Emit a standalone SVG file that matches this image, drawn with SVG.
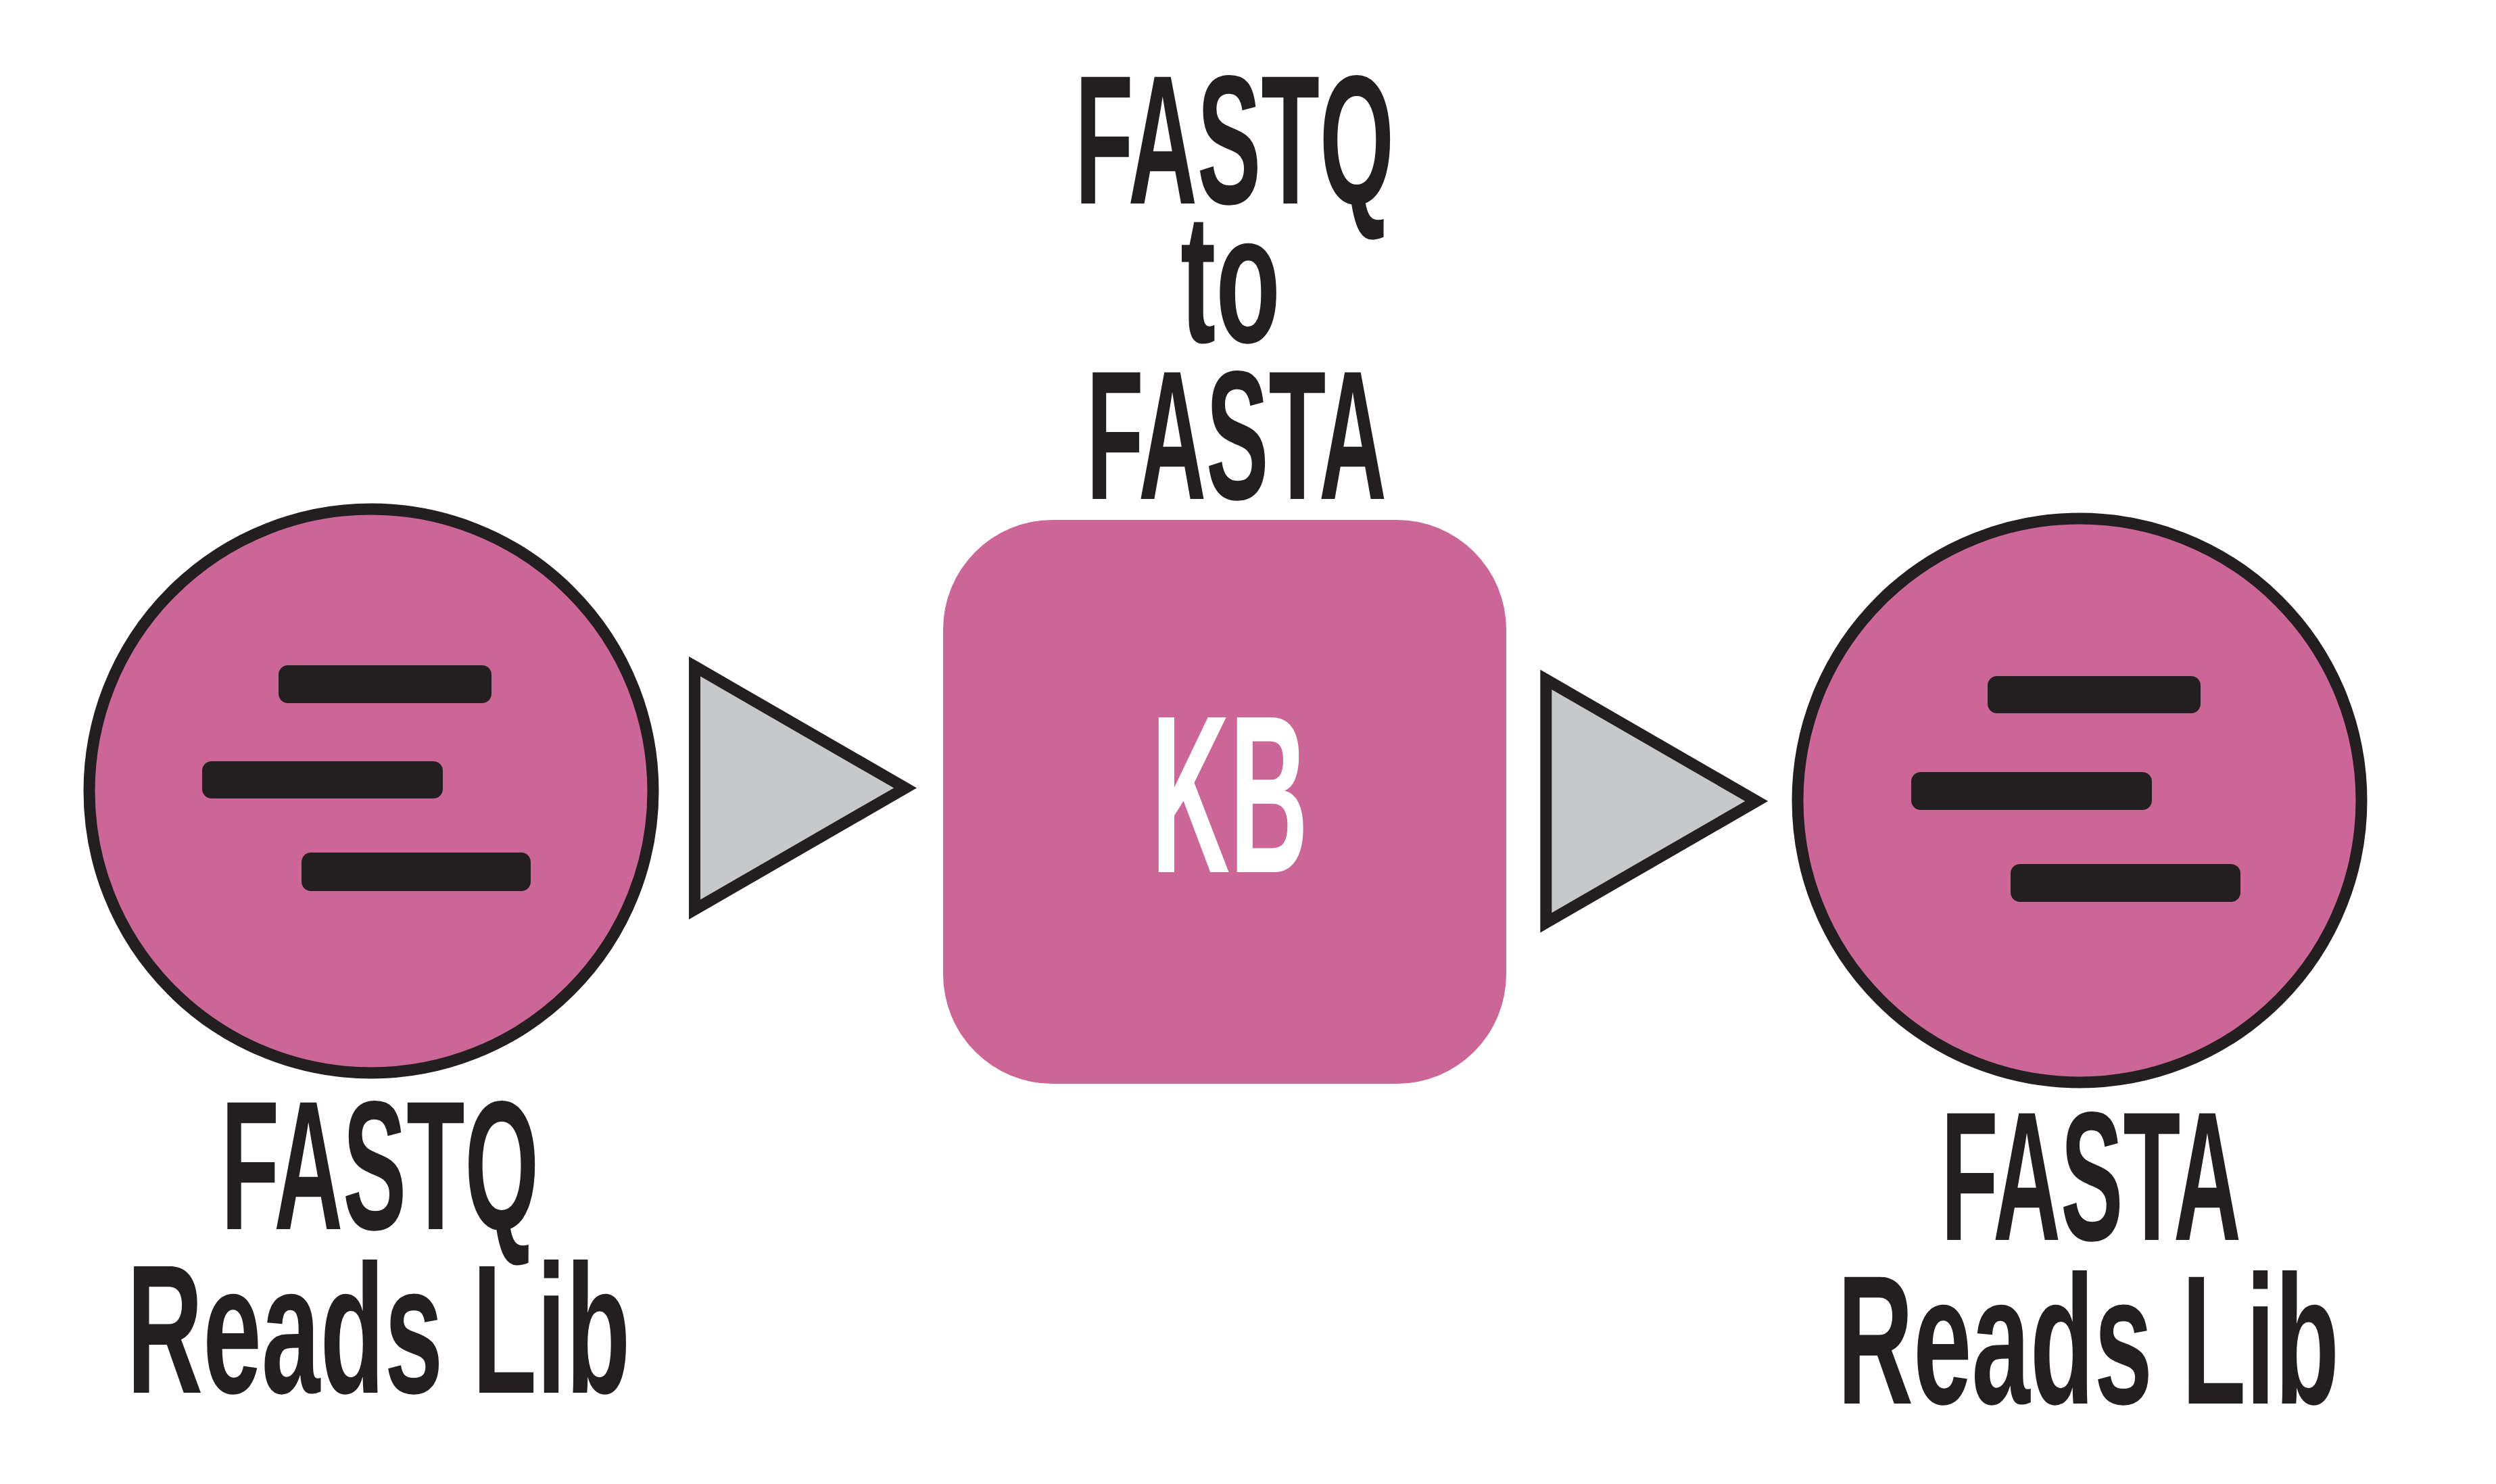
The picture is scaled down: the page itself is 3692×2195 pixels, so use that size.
<svg xmlns="http://www.w3.org/2000/svg" width="3692" height="2195" viewBox="0 0 3692 2195">
<style>
.lib{fill:#cc6697;stroke:#231f20;stroke-width:17}
.bar{fill:#231f20}
.kb{fill:#cc6697}
.arrow{fill:#c7c8ca;stroke:#231f20;stroke-width:17;stroke-linejoin:miter;stroke-miterlimit:10}
.lbl{font-family:"Liberation Sans",Arial,sans-serif;font-weight:bold;font-size:272px;fill:#231f20;text-anchor:middle}
.kbt{font-family:"Liberation Sans",Arial,sans-serif;font-weight:bold;font-size:333px;fill:#ffffff;text-anchor:middle}
</style>
<rect width="3692" height="2195" fill="#ffffff"/>
<g id="connectors">
<polygon class="arrow" points="1027.5,985.7 1339,1165.5 1027.5,1345.3"/>
<polygon class="arrow" points="2286.8,1005.2 2598.2,1185 2286.8,1364.8"/>
</g>
<g id="fastq-lib">
<circle class="lib" cx="549" cy="1170" r="417"/>
<rect class="bar" x="412" y="984" width="315" height="56" rx="14"/>
<rect class="bar" x="299" y="1126" width="356" height="55" rx="14"/>
<rect class="bar" x="446" y="1261" width="339" height="57" rx="14"/>
<text class="lbl" transform="translate(562,1818) scale(0.5186,1)">FASTQ</text>
<text class="lbl" transform="translate(560,2060) scale(0.573,1)">Reads Lib</text>
</g>
<g id="kb-app">
<text class="lbl" transform="translate(1826,301) scale(0.5207,1)">FASTQ</text>
<text class="lbl" transform="translate(1820,506) scale(0.576,1)">to</text>
<text class="lbl" transform="translate(1829,738) scale(0.5096,1)">FASTA</text>
<rect class="kb" x="1395" y="769" width="833" height="834" rx="162"/>
<text class="kbt" transform="translate(1819,1290) scale(0.482,1)">KB</text>
</g>
<g id="fasta-lib">
<circle class="lib" cx="3076" cy="1184" r="417"/>
<rect class="bar" x="2940" y="1000" width="315" height="55" rx="14"/>
<rect class="bar" x="2827" y="1142" width="356" height="56" rx="14"/>
<rect class="bar" x="2974" y="1278" width="340" height="56" rx="14"/>
<text class="lbl" transform="translate(3093,1834) scale(0.5096,1)">FASTA</text>
<text class="lbl" transform="translate(3089,2076) scale(0.571,1)">Reads Lib</text>
</g>
</svg>
